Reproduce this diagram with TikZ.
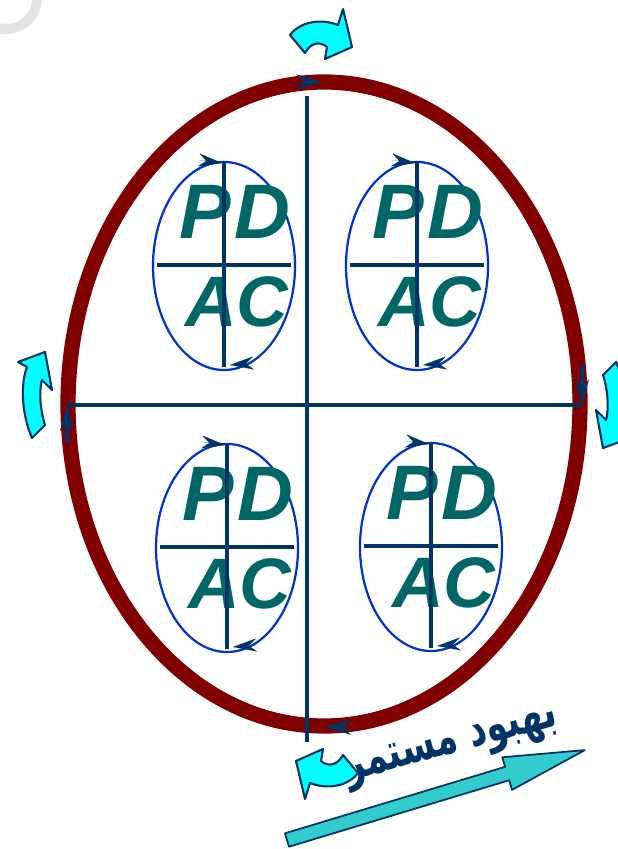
\documentclass[tikz,border=0pt]{standalone}
\usepackage{fontspec}
\setmainfont{Liberation Sans}
\newfontfamily\arabicfont[Script=Arabic]{DejaVu Sans}
\TeXXeTstate=1
\usetikzlibrary{arrows.meta}
\definecolor{ringred}{RGB}{128,0,0}
\definecolor{navy}{RGB}{0,51,102}
\definecolor{loopblue}{RGB}{0,51,204}
\definecolor{pdcateal}{RGB}{0,102,102}
\definecolor{turncyan}{RGB}{0,255,255}
\definecolor{stepcyan}{RGB}{51,204,204}

\begin{document}
\begin{tikzpicture}[
  x=0.03cm, y=-0.03cm,
  ring/.style={draw=ringred, line width=13pt},
  crossline/.style={draw=navy, line width=2.6pt},
  loopline/.style={draw=loopblue, line width=1.9pt},
  pdtext/.style={font=\fontsize{66}{66}\selectfont\bfseries\itshape, text=pdcateal, inner sep=0pt, anchor=base},
  actext/.style={font=\fontsize{61}{61}\selectfont\bfseries\itshape, text=pdcateal, inner sep=0pt, anchor=base},
  bighead/.style={-{Stealth[length=22pt, width=12pt]}},
  smallhead/.style={navy, line width=0.1pt, -{Stealth[length=20pt, width=11pt]}},
  turnarrow/.style={fill=turncyan, draw=navy, line width=1.8pt, line join=round},
  stepsarrow/.style={fill=stepcyan, draw=navy, line width=1.5pt, line join=round}
]
\useasboundingbox (0,0) rectangle (617,849);

% faint ring in the corner
\draw[gray!22, line width=8.5pt] (6,-2) circle[radius=31];

% big cycle
\draw[ring] (324,404) ellipse[x radius=256, y radius=322];
\coordinate (n) at (307,96);
\coordinate (s) at (307,742);
\coordinate (w) at (67,405);
\coordinate (e) at (582,405);
\coordinate (wtail) at (67,443);
\coordinate (etail) at (582,365);
\draw[crossline] (n) -- (s);
\draw[crossline] (w) -- (e);
\draw[crossline, bighead] (wtail) -- (w);
\draw[crossline, bighead] (etail) -- (e);
\draw[smallhead, -{Stealth[length=22pt, width=13pt]}] (296,82) -- (322,82);
\draw[smallhead, -{Stealth[length=22pt, width=13pt]}] (351,727) -- (325,727);

% four small PDCA cycles
\foreach \cx/\cy/\q in {224/266/tl, 417/266/tr, 227/548/bl, 431/547/br}{
  \draw[loopline] (\cx,\cy) ellipse[x radius=71, y radius=104];
  \node[pdtext] (pd\q) at (\cx+11,\cy-28) {P\hspace{3pt}D};
  \node[actext] (ac\q) at (\cx+13,\cy+60) {AC};
  \draw[crossline] (\cx,\cy-104) -- (\cx,\cy+101);
  \draw[crossline] (\cx-67,\cy-1) -- (\cx+67,\cy-1);
  \draw[smallhead] (\cx-25,\cy-106) -- (\cx-2,\cy-103);
  \draw[smallhead] (\cx+29,\cy+97) -- (\cx+6,\cy+99);
}

% turning arrows round the cycle
\path[turnarrow] (290,35) .. controls (300,22) and (320,18) .. (338,25)
  -- (343,9) -- (352,47) -- (325,59) -- (327,47)
  .. controls (318,40) and (310,44) .. (305,53) -- cycle;
\path[turnarrow, rotate around={180:(324,404)}] (290,35) .. controls (300,22) and (320,18) .. (338,25)
  -- (343,9) -- (352,47) -- (325,59) -- (327,47)
  .. controls (318,40) and (310,44) .. (305,53) -- cycle;
\path[turnarrow] (45,352) -- (18,362) -- (27,367)
  .. controls (20,385) and (22,415) .. (32,438) -- (45,425)
  .. controls (40,410) and (39,390) .. (42,380) -- (52,390) -- cycle;
\path[turnarrow, rotate around={180:(324,400)}] (45,352) -- (18,362) -- (27,367)
  .. controls (20,385) and (22,415) .. (32,438) -- (45,425)
  .. controls (40,410) and (39,390) .. (42,380) -- (52,390) -- cycle;

% continuous improvement
\node[rotate=15, xscale=0.9, yscale=1.3, text=navy, font=\arabicfont\bfseries\fontsize{33}{33}\selectfont] (kaizen) at (452,747) {\beginR بهبود مستمر\endR};
\begin{scope}[shift={(287,840)}, rotate=16.8]
  \path[stepsarrow] (0,-7) -- (230,-7) -- (230,-17) -- (311,0) -- (230,17) -- (230,7) -- (0,7) -- cycle;
\end{scope}
\end{tikzpicture}
\end{document}
